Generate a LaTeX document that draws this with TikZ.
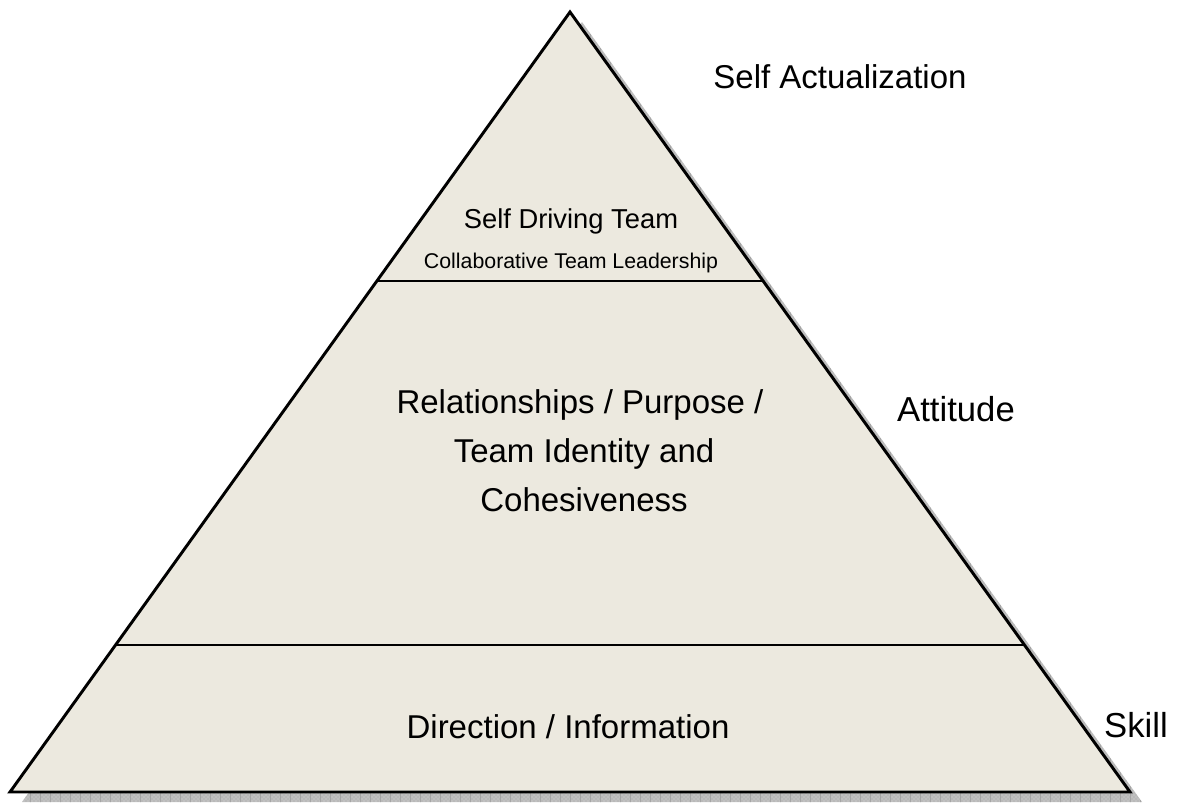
\documentclass[tikz,border=0pt]{standalone}
\usepackage{fontspec}
\setmainfont{Liberation Sans}
\usetikzlibrary{patterns}
\definecolor{pyrfill}{RGB}{236,233,223}
\definecolor{shadowgray}{RGB}{192,192,192}
\definecolor{shadowline}{RGB}{165,165,165}
\tikzset{
  px/.style={x=0.75pt,y=-0.75pt},
  label/.style={anchor=base,inner sep=0pt,text=black},
  big/.style={label,font=\fontsize{24.75pt}{36.75pt}\selectfont},
  mid/.style={label,font=\fontsize{20.5pt}{24pt}\selectfont},
  small/.style={label,font=\fontsize{16pt}{20pt}\selectfont},
  outline/.style={line width=2.2pt,line join=miter},
  divider/.style={line width=1.7pt}
}
\begin{document}
\begin{tikzpicture}[px]
\useasboundingbox (0,0) rectangle (1180,803);
% corner points of the pyramid
\coordinate (apex) at (570,12);
\coordinate (bl) at (10,792);
\coordinate (br) at (1130,792);
% corner points of its drop shadow
\coordinate (sapex) at (582,22);
\coordinate (sbl) at (22,802);
\coordinate (sbr) at (1142,802);
% drop shadow
\fill[shadowgray] (sapex) -- (sbr) -- (sbl) -- cycle;
\begin{scope}
  \clip (sapex) -- (sbr) -- (sbl) -- cycle;
  \foreach \x in {0,10,...,1190}
    \draw[shadowline,line width=0.5pt] (\x,0) -- (\x,810);
  \fill[pattern=crosshatch dots,pattern color=shadowline] (sapex) -- (sbr) -- (sbl) -- cycle;
\end{scope}
% pyramid body
\draw[outline,fill=pyrfill] (apex) -- (br) -- (bl) -- cycle;
% level dividers
\draw[divider] (376.4,281) -- (763.6,281);
\draw[divider] (115.4,645) -- (1024.6,645);
% texts inside the levels
\node[mid] (drive) at (571,228) {Self Driving Team};
\node[small] (collab) at (571,268) {Collaborative Team Leadership};
\node[big] (rel1) at (580,413) {Relationships / Purpose /};
\node[big] (rel2) at (584,462) {Team Identity and};
\node[big] (rel3) at (584,511) {Cohesiveness};
\node[big] (dir) at (568,738) {Direction / Information};
% level names on the right
\node[big] (selfact) at (840,88) {Self Actualization};
\node[big,font=\fontsize{26pt}{30pt}\selectfont] (att) at (956,421) {Attitude};
\node[big,font=\fontsize{26pt}{30pt}\selectfont] (skill) at (1136,737) {Skill};
\end{tikzpicture}
\end{document}
